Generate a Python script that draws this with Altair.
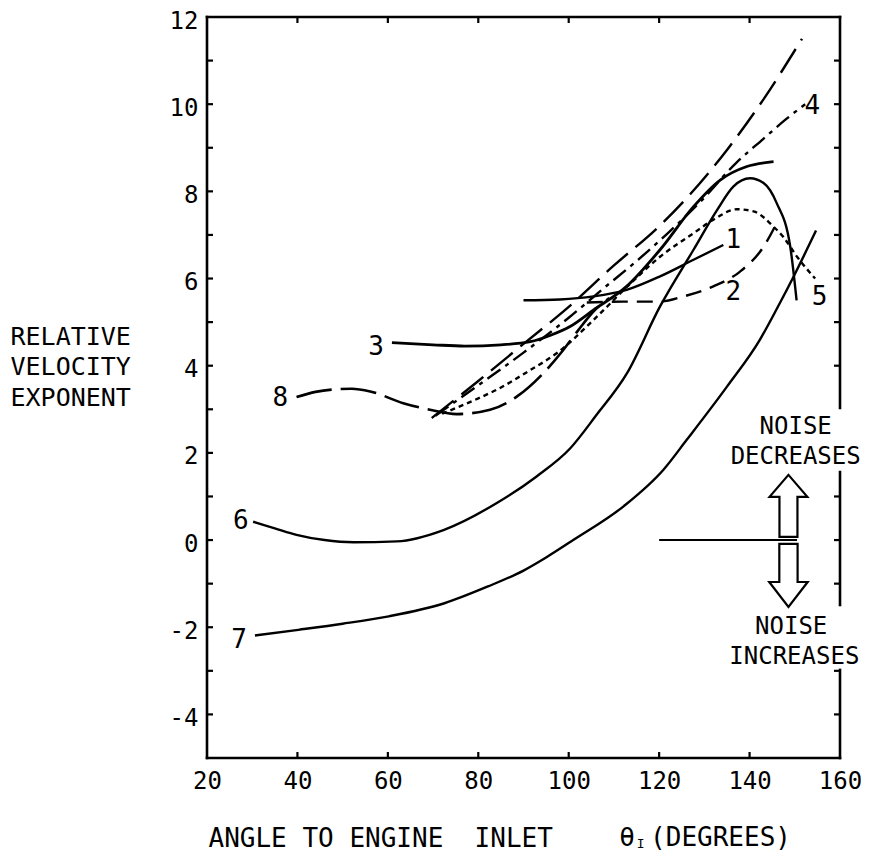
import altair as alt
import pandas as pd

# ---------------- data ----------------
c1_x = [90, 98, 105.5, 112.8, 120.2, 127.6, 134.2]
c1_y = [5.5, 5.52, 5.59, 5.74, 6.05, 6.43, 6.77]

c2_x = [104, 112, 120.2, 125.4, 132, 137.9, 143.1, 146]
c2_y = [5.45, 5.47, 5.47, 5.59, 5.82, 6.16, 6.73, 7.27]

c3_x = [60.9, 70, 77, 85, 91.5, 96, 100.3, 105.5, 112.8, 120.2, 127.6, 133.5, 139.4, 145.3]
c3_y = [4.53, 4.48, 4.45, 4.48, 4.55, 4.7, 4.9, 5.28, 5.82, 6.66, 7.65, 8.26, 8.57, 8.68]

c4_x = [70.5, 80, 90, 100, 108, 115, 122, 129, 137, 143, 148, 152.3]
c4_y = [2.85, 3.55, 4.3, 5.1, 5.8, 6.4, 7.05, 7.75, 8.65, 9.2, 9.65, 10.0]

c5_x = [72, 80, 84.1, 91.5, 97.4, 105.5, 112.8, 120.2, 127.6, 132, 137.2, 140.9, 145.3, 147.5, 150.5, 154.5]
c5_y = [2.9, 3.25, 3.45, 3.9, 4.29, 5.05, 5.8, 6.5, 7.04, 7.35, 7.59, 7.54, 7.19, 6.95, 6.5, 6.0]

c6_x = [30.2, 35, 39.8, 46, 52.4, 62, 72.3, 84.1, 92.9, 100.3, 106, 112.9, 120.2, 127.6,
        132.8, 136.4, 140.1, 143.1, 146, 149, 150.4]
c6_y = [0.42, 0.27, 0.12, 0.0, -0.05, -0.03, 0.23, 0.85, 1.46, 2.1, 2.85, 3.83, 5.36, 6.66,
        7.57, 8.11, 8.3, 8.19, 7.73, 6.73, 5.5]

c7_x = [30.6, 40.2, 50, 60.2, 72.5, 82, 90, 95, 101, 112.2, 121, 126.1, 135, 142.3, 146, 150, 154.7]
c7_y = [-2.19, -2.06, -1.92, -1.75, -1.45, -1.07, -0.7, -0.4, 0.0, 0.78, 1.62, 2.3, 3.52, 4.6, 5.3, 6.1, 7.1]

c8_x = [39.8, 44, 48.7, 52, 56.1, 63.4, 69.3, 75.2, 82.6, 88.5, 94.4, 98.8, 102, 106, 109]
c8_y = [3.28, 3.4, 3.46, 3.47, 3.41, 3.14, 2.99, 2.89, 2.99, 3.29, 3.83, 4.36, 4.8, 5.3, 5.55]

c8b_x = [69.7, 80, 90, 100, 110, 120, 127, 135, 143, 151.6]
c8b_y = [2.8, 3.65, 4.5, 5.35, 6.3, 7.2, 7.95, 8.95, 10.1, 11.5]

ref_x = [120, 150.5]
ref_y = [0, 0]

lab_text = ["1", "2", "3", "4", "5", "6", "7", "8"]
lab_x = [136.4, 136.4, 57.4, 153.9, 155.5, 27.5, 27.1, 36.2]
lab_y = [6.89, 5.69, 4.42, 9.96, 5.58, 0.43, -2.29, 3.26]

noise_text = ["NOISE", "DECREASES", "NOISE", "INCREASES"]
noise_x = [150.2, 150.2, 149.2, 149.9]
noise_y = [2.6, 1.91, -1.99, -2.68]

arrow_x = [148.6, 148.6]
arrow_y = [0.785, -0.81]
arrow_shape = [
    "M0,-1 L0.61,-0.29 L0.29,-0.29 L0.29,1 L-0.29,1 L-0.29,-0.29 L-0.61,-0.29 Z",
    "M-0.29,-1 L0.29,-1 L0.29,0.21 L0.61,0.21 L0,1 L-0.61,0.21 L-0.29,0.21 Z",
]
arrow_size = [3844, 3969]

x_tick_vals = [40, 60, 80, 100, 120, 140]
y_tick_vals = list(range(-4, 12))
x_label_vals = list(range(20, 161, 20))
y_label_vals = list(range(-4, 13, 2))

# rest of the x-axis title (theta, subscript, unit), placed below the axis
xt_text = ["θ", "I", "(DEGREES)"]
xt_x = [112.9, 115.9, 118.0]
xt_y = [-6.83, -6.97, -6.83]
xt_size = [26, 13, 26]
xt_align = ["center", "center", "left"]

# frame (right side broken where the NOISE texts sit)
frame_x = [20, 20, 20, 160, 160, 160]
frame_x2 = [20, 160, 160, 160, 160, 160]
frame_y = [-5, -5, 12, 3.03, -1.49, -5]
frame_y2 = [12, -5, 12, 12, 1.56, -2.98]
gaps = [(1.56, 3.03), (-2.98, -1.49)]

# ---------------- layout / style ----------------
W, H = 633, 741
TICK = 6
FONT = "DejaVu Sans Mono"
NB = "\u00a0"

x_scale = alt.Scale(domain=[20, 160], nice=False, zero=False)
y_scale = alt.Scale(domain=[-5, 12], nice=False, zero=False)

x_axis = alt.Axis(
    values=x_label_vals, domain=False, ticks=False, tickSize=0, grid=False,
    labelFont=FONT, labelFontSize=24, labelPadding=11, labelFlush=False,
    labelOverlap=False, labelColor="black",
    title="ANGLE TO ENGINE" + NB * 2 + "INLET",
    titleFont=FONT, titleFontSize=26, titleFontWeight="normal", titleColor="black",
    titleX=1, titleY=80, titleAlign="left", titleBaseline="middle",
)
y_axis = alt.Axis(
    values=y_label_vals, labelExpr="'' + datum.value", domain=False, ticks=False,
    tickSize=0, grid=False, labelFont=FONT, labelFontSize=24, labelPadding=9,
    labelOffset=4, labelColor="black",
    title=["RELATIVE", "VELOCITY", "EXPONENT"], titleAngle=0,
    titleX=-197, titleY=327, titleAlign="left", titleBaseline="alphabetic",
    titleLineHeight=30.5, titleFont=FONT, titleFontSize=25, titleFontWeight="normal",
    titleColor="black",
)


def X(f):
    return alt.X(f, type="quantitative", scale=x_scale, axis=x_axis)


def Y(f):
    return alt.Y(f, type="quantitative", scale=y_scale, axis=y_axis)


layers = []

# frame
frame_df = pd.DataFrame({"x": frame_x, "x2": frame_x2, "y": frame_y, "y2": frame_y2})
layers.append(
    alt.Chart(frame_df).mark_rule(color="black", strokeWidth=2.6, strokeCap="square")
    .encode(x=X("x"), x2=alt.X2("x2"), y=Y("y"), y2=alt.Y2("y2"))
)

# inward ticks
left_df = pd.DataFrame({"v": y_tick_vals})
right_vals = [v for v in y_tick_vals if not any(lo < v < hi for lo, hi in gaps)]
right_df = pd.DataFrame({"v": right_vals})
xt_df = pd.DataFrame({"v": x_tick_vals})
tick_mark = dict(color="black", strokeWidth=2.2)
layers.append(alt.Chart(left_df).mark_rule(**tick_mark).encode(
    y=Y("v"), x=alt.value(0), x2=alt.value(TICK)))
layers.append(alt.Chart(right_df).mark_rule(**tick_mark).encode(
    y=Y("v"), x=alt.value(W - TICK), x2=alt.value(W)))
layers.append(alt.Chart(xt_df).mark_rule(**tick_mark).encode(
    x=X("v"), y=alt.value(0), y2=alt.value(TICK)))
layers.append(alt.Chart(xt_df).mark_rule(**tick_mark).encode(
    x=X("v"), y=alt.value(H - TICK), y2=alt.value(H)))

# curves
series = [
    (c1_x, c1_y, None, 2.4),
    (c2_x, c2_y, [16, 9], 2.4),
    (c3_x, c3_y, None, 2.8),
    (c4_x, c4_y, [16, 6, 4, 6], 2.4),
    (c5_x, c5_y, [5, 4], 2.4),
    (c6_x, c6_y, None, 2.4),
    (c7_x, c7_y, None, 2.4),
    (c8_x, c8_y, [36, 9], 2.6),
    (c8b_x, c8b_y, [28, 10], 2.4),
    (ref_x, ref_y, None, 2.0),
]
for xs, ys, dash, sw in series:
    df = pd.DataFrame({"x": xs, "y": ys, "i": list(range(len(xs)))})
    kw = dict(color="black", strokeWidth=sw, interpolate="monotone", strokeCap="butt")
    if dash:
        kw["strokeDash"] = dash
    layers.append(alt.Chart(df).mark_line(**kw).encode(x=X("x"), y=Y("y"), order="i:Q"))

# arrows
arrow_df = pd.DataFrame({"x": arrow_x, "y": arrow_y, "shape": arrow_shape, "size": arrow_size})
layers.append(
    alt.Chart(arrow_df).mark_point(filled=True, fill="white", stroke="black", strokeWidth=2.2, opacity=1)
    .encode(x=X("x"), y=Y("y"),
            shape=alt.Shape("shape:N", scale=None),
            size=alt.Size("size:Q", scale=None))
)

# curve labels
lab_df = pd.DataFrame({"t": lab_text, "x": lab_x, "y": lab_y})
layers.append(
    alt.Chart(lab_df).mark_text(font=FONT, fontSize=26, color="black", align="center", baseline="middle")
    .encode(x=X("x"), y=Y("y"), text="t:N")
)

# noise annotations
noise_df = pd.DataFrame({"t": noise_text, "x": noise_x, "y": noise_y})
layers.append(
    alt.Chart(noise_df).mark_text(font=FONT, fontSize=24, color="black", align="center", baseline="middle")
    .encode(x=X("x"), y=Y("y"), text="t:N")
)

# theta, subscript and unit of the x title
for t, xv, yv, fs, al in zip(xt_text, xt_x, xt_y, xt_size, xt_align):
    d = pd.DataFrame({"t": [t], "x": [xv], "y": [yv]})
    layers.append(
        alt.Chart(d).mark_text(font=FONT, fontSize=fs, color="black", align=al, baseline="middle")
        .encode(x=X("x"), y=Y("y"), text="t:N")
    )

chart = (
    alt.layer(*layers)
    .properties(width=W, height=H, autosize=alt.AutoSizeParams(type="none"),
                padding={"left": 199, "top": 9, "right": 21, "bottom": 94},
                background="white")
    .configure_view(stroke=None)
)

chart.save("out.html", embed_options={"renderer": "svg", "actions": False})
